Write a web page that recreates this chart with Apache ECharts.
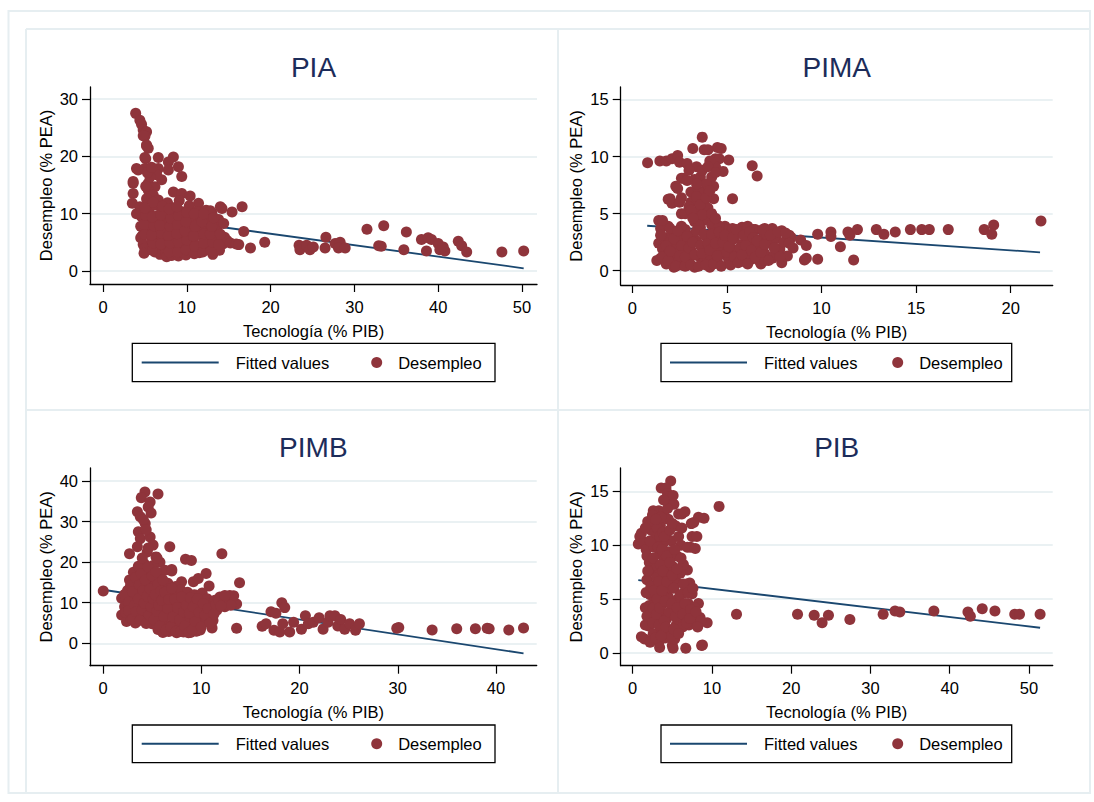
<!DOCTYPE html>
<html>
<head>
<meta charset="utf-8">
<script src="https://cdn.jsdelivr.net/npm/echarts@6/dist/echarts.min.js"></script>
<style>html,body{margin:0;padding:0;background:#fff}#c{width:1094px;height:802px}</style>
</head>
<body>
<div id="c"></div>
<script>
// ---------------- DATA ----------------
const panelTitles = ['PIA', 'PIMA', 'PIMB', 'PIB'];
const xTitle = 'Tecnología (% PIB)';
const yTitle = 'Desempleo (% PEA)';
const legendNames = ['Fitted values', 'Desempleo'];

const xTicksPIA = [0, 10, 20, 30, 40, 50];
const yTicksPIA = [0, 10, 20, 30];
const xTicksPIMA = [0, 5, 10, 15, 20];
const yTicksPIMA = [0, 5, 10, 15];
const xTicksPIMB = [0, 10, 20, 30, 40];
const yTicksPIMB = [0, 10, 20, 30, 40];
const xTicksPIB = [0, 10, 20, 30, 40, 50];
const yTicksPIB = [0, 5, 10, 15];

// fitted values (line endpoints)
const fitPIA = [[3.6, 9.77], [50.2, 0.47]];
const fitPIMA = [[0.79, 3.94], [21.55, 1.61]];
const fitPIMB = [[0.0, 13.2], [42.8, -2.47]];
const fitPIB = [[0.71, 6.76], [51.4, 2.34]];

// Desempleo vs Tecnología, PIA
const ptsPIA = [
  [3.9, 27.5], [4.4, 26.3], [4.6, 25.6], [4.8, 24.6], [5.2, 24.3], [5.0, 23.5], [4.8, 23.6], [5.2, 22.0], [5.4, 21.4],
  [5.1, 19.6], [6.6, 19.8], [8.4, 19.9], [7.8, 19.0], [9.0, 18.2], [7.8, 17.6], [9.4, 16.5], [4.0, 17.9], [5.0, 17.9],
  [6.6, 17.9], [3.6, 15.3], [5.4, 15.3], [3.6, 13.5], [8.4, 13.8], [9.4, 13.5], [10.4, 13.1], [3.5, 11.8], [11.4, 11.8],
  [4.2, 17.6], [3.6, 15.6], [5.0, 19.8], [5.2, 21.8], [6.2, 14.7], [5.4, 14.1], [7.0, 15.9], [6.4, 16.8], [5.6, 16.4],
  [5.3, 17.2], [5.8, 18.1], [6.0, 13.2], [6.6, 12.4], [5.2, 12.6], [5.1, 14.8],
  [4.4, 11.2], [4.6, 9.5], [4.5, 7.8], [4.7, 6.2], [4.5, 5.8], [4.8, 4.6], [5.0, 3.9], [4.0, 10.0],
  [5.5, 10.5], [5.7, 8.8], [5.6, 7.1], [5.8, 5.4], [5.9, 4.2], [6.2, 3.3], [6.3, 11.5], [6.4, 9.6], [6.5, 8.0],
  [6.3, 6.6], [6.7, 5.1], [6.9, 3.6], [6.8, 2.9], [7.0, 10.8], [7.1, 9.1], [7.2, 7.4], [7.0, 6.0], [7.3, 4.4],
  [7.5, 3.1], [7.6, 2.5], [7.7, 11.9], [7.8, 10.2], [7.9, 8.5], [7.7, 6.9], [8.0, 5.6], [8.1, 4.0], [8.2, 2.7],
  [8.4, 3.4], [8.5, 9.7], [8.6, 11.0], [8.3, 7.6], [8.6, 6.2], [8.8, 4.8], [9.0, 2.6], [9.2, 3.9], [9.1, 12.3],
  [9.3, 10.4], [9.4, 8.9], [9.2, 7.1], [9.5, 5.5], [9.6, 3.2], [9.9, 2.8], [10.0, 4.6], [10.1, 6.5], [10.2, 8.0],
  [10.0, 9.6], [10.3, 11.4], [10.6, 3.6], [10.8, 5.2], [10.9, 7.0], [11.0, 9.0], [11.2, 10.4], [11.5, 3.2],
  [11.7, 4.4], [11.8, 6.2], [11.9, 7.7], [12.1, 9.3], [12.3, 10.6], [12.4, 3.8], [12.6, 5.0], [12.7, 6.8],
  [12.9, 8.4], [13.0, 10.1], [13.1, 2.9], [13.3, 4.2], [13.5, 5.6], [13.6, 7.3], [13.8, 9.0], [13.9, 3.6],
  [14.0, 11.2], [14.3, 4.7], [14.5, 5.9], [14.4, 8.3], [14.8, 5.3], [15.2, 4.9], [15.4, 10.3], [15.9, 4.7],
  [14.2, 10.9], [12.8, 10.5], [16.6, 11.2], [16.8, 6.9], [17.6, 4.0], [19.3, 5.0], [16.2, 4.6],
  [23.4, 4.5], [23.5, 3.7], [24.3, 4.5], [24.7, 3.7], [25.1, 4.2], [26.6, 5.9], [26.5, 4.0], [27.7, 4.8],
  [28.3, 5.0], [28.1, 4.0], [28.9, 4.0], [31.5, 7.3], [33.5, 7.9], [32.9, 4.4], [33.2, 4.3], [35.9, 3.7],
  [36.2, 6.8], [38.0, 5.5], [38.8, 5.8], [39.2, 5.5], [38.6, 3.5], [40.0, 4.8], [40.2, 3.7], [40.8, 3.5],
  [40.6, 4.2], [42.4, 5.2], [42.8, 4.4], [43.4, 3.3], [47.6, 3.3], [50.2, 3.5]
];
const corePIA = [
  [4.9, 3.1], [5.0, 6.4], [4.9, 8.1], [5.1, 9.7], [5.0, 11.0], [5.9, 3.6], [6.0, 4.9], [5.8, 6.3], [6.1, 7.9],
  [5.9, 9.4], [6.0, 12.0], [6.9, 4.7], [7.0, 6.6], [6.8, 8.0], [6.9, 9.8], [7.1, 11.3], [7.9, 3.3], [8.0, 4.9],
  [7.8, 6.2], [8.0, 7.8], [8.1, 9.2], [7.9, 10.8], [8.9, 3.3], [9.0, 5.0], [8.8, 6.5], [8.9, 8.1], [9.0, 9.7],
  [8.8, 11.2], [9.9, 3.7], [10.0, 5.4], [9.8, 7.0], [9.9, 8.6], [10.0, 10.2], [10.9, 3.0], [11.0, 4.3],
  [10.8, 6.1], [11.0, 7.8], [10.9, 10.0], [11.9, 3.3], [12.0, 4.9], [12.1, 6.5], [11.8, 8.6], [12.0, 10.0],
  [12.9, 3.5], [13.1, 5.0], [12.8, 6.4], [13.0, 7.8], [13.2, 9.3], [14.0, 6.4], [13.8, 4.6]
];

// PIMA
const ptsPIMA = [
  [0.81, 9.46], [1.46, 9.6], [1.8, 9.6], [2.1, 9.8], [2.4, 10.1], [2.5, 9.5], [2.9, 9.4], [3.4, 9.1], [3.2, 10.7],
  [3.7, 11.7], [3.8, 10.6], [4.5, 10.8], [4.4, 9.8], [5.1, 9.7], [4.8, 8.7], [6.34, 9.2], [6.6, 8.3], [2.6, 8.1],
  [2.3, 7.4], [1.9, 6.25], [2.1, 5.9], [2.6, 5.0], [2.6, 6.4], [5.3, 6.3], [3.8, 4.44], [1.4, 4.4], [1.5, 3.7],
  [1.9, 3.9], [4.5, 4.0], [4.0, 10.6], [4.7, 10.7], [4.6, 9.8], [4.4, 9.1], [4.2, 8.2], [3.6, 8.2], [4.3, 7.4],
  [3.8, 6.9], [3.1, 6.9], [2.4, 7.2], [2.7, 8.1], [2.0, 6.3], [2.5, 6.0], [3.1, 6.0], [3.8, 6.0], [4.3, 6.3],
  [3.5, 5.3], [4.0, 5.5], [2.8, 5.0], [3.3, 4.3], [4.0, 4.5], [1.6, 4.4], [4.9, 3.9], [3.9, 7.6], [3.5, 7.0],
  [4.1, 9.6], [3.3, 8.0], [3.0, 5.6], [3.7, 4.9],
  [1.4, 2.4], [1.5, 1.1], [1.6, 1.9], [1.7, 2.9], [1.8, 0.6], [1.9, 1.5], [2.0, 2.5], [2.1, 3.3], [2.2, 0.3],
  [2.3, 1.2], [2.4, 2.0], [2.5, 2.9], [2.6, 0.5], [2.7, 1.6], [2.8, 3.6], [2.9, 2.4], [3.0, 0.9], [3.1, 1.8],
  [3.2, 3.1], [3.3, 0.3], [3.4, 2.6], [3.5, 1.3], [3.6, 3.8], [3.7, 0.6], [3.8, 2.0], [3.9, 3.0], [4.0, 1.1],
  [4.1, 0.3], [4.2, 2.5], [4.3, 3.5], [4.4, 1.6], [4.5, 0.8], [4.6, 2.9], [4.7, 2.1], [4.8, 3.7], [4.9, 1.4],
  [5.0, 2.6], [5.1, 0.9], [5.2, 3.3], [5.3, 1.9], [5.4, 2.8], [5.5, 1.2], [5.6, 3.5], [5.8, 2.3], [5.9, 0.8],
  [6.0, 3.0], [6.1, 1.7], [6.2, 2.6], [6.3, 1.0], [6.5, 3.6], [6.6, 2.0], [6.7, 0.9], [6.9, 2.9], [7.0, 1.5],
  [7.1, 3.2], [7.3, 2.4], [7.4, 1.1], [7.6, 2.8], [7.8, 1.9], [8.0, 2.5], [8.2, 1.3], [8.4, 2.9], [1.3, 0.9],
  [2.0, 3.7], [2.6, 3.9], [3.5, 4.0], [4.2, 4.0], [4.6, 3.9], [5.3, 3.7], [5.8, 3.8], [6.1, 3.9], [7.0, 3.7],
  [6.8, 0.6], [7.5, 1.3], [7.9, 0.7], [7.0, 0.9],
  [6.4, 3.62], [7.4, 3.7], [7.9, 3.5], [8.3, 3.1], [8.3, 2.4], [8.9, 2.7], [9.2, 2.2], [9.1, 0.94], [9.2, 1.1],
  [9.8, 1.0], [9.8, 3.2], [10.5, 3.4], [10.5, 3.0], [11.0, 2.1], [11.4, 3.4], [11.5, 3.1], [11.9, 3.6],
  [11.7, 0.94], [12.9, 3.6], [13.3, 3.2], [13.9, 3.4], [14.7, 3.6], [15.3, 3.6], [15.7, 3.6], [16.7, 3.6],
  [18.6, 3.6], [19.1, 4.0], [19.0, 3.2], [21.6, 4.35]
];
const corePIMA = [
  [1.5, 3.1], [1.6, 1.2], [1.8, 2.2], [1.9, 0.9], [2.0, 1.7], [2.2, 2.8], [2.3, 0.4], [2.4, 3.5], [2.5, 1.3],
  [2.6, 2.2], [2.8, 0.4], [2.8, 1.2], [2.9, 3.0], [3.0, 2.0], [3.1, 0.5], [3.2, 2.5], [3.3, 1.4], [3.4, 3.5],
  [3.5, 0.4], [3.6, 2.2], [3.7, 1.5], [3.8, 3.2], [3.9, 0.5], [4.0, 2.4], [4.1, 1.8], [4.2, 3.2], [4.3, 0.6],
  [4.4, 2.4], [4.5, 1.3], [4.6, 3.4], [4.7, 0.4], [4.8, 2.5], [4.9, 3.1], [5.0, 1.6], [5.1, 2.1], [5.2, 0.5],
  [5.3, 2.9], [5.4, 1.2], [5.5, 3.6], [5.6, 0.7], [5.7, 2.0], [5.8, 1.4], [5.9, 3.1], [6.0, 2.2], [6.1, 0.6],
  [6.2, 3.4], [6.3, 1.8], [6.4, 2.9], [6.5, 1.2], [6.6, 2.6], [6.8, 1.6], [6.9, 3.6], [7.0, 2.3], [7.2, 0.9],
  [7.3, 3.1], [7.5, 2.0], [7.7, 3.4], [7.8, 1.2], [8.1, 3.3], [8.5, 2.0], [3.1, 5.3], [3.4, 6.5], [3.6, 5.8],
  [3.9, 6.4], [4.1, 7.0], [3.7, 8.8], [4.0, 9.1], [3.4, 7.6], [4.4, 8.6], [4.2, 5.0], [3.2, 4.6], [4.4, 4.6],
  [2.9, 7.9], [3.0, 8.8]
];

// PIMB
const ptsPIMB = [
  [0.03, 12.9], [4.27, 37.3], [5.6, 36.8], [3.9, 35.9], [4.8, 34.8], [4.6, 33.6], [3.5, 32.4], [4.9, 32.1],
  [3.8, 31.2], [4.3, 29.5], [3.6, 27.5], [3.8, 25.8], [4.8, 26.2], [5.1, 24.2], [3.5, 23.8], [6.8, 23.8],
  [2.7, 22.1], [12.1, 22.1], [5.4, 21.3], [8.4, 20.7], [9.0, 20.4], [7.0, 18.2], [10.5, 17.2], [8.0, 15.2],
  [9.2, 15.2], [9.7, 16.0], [10.8, 14.1], [13.9, 14.9], [12.9, 11.8], [11.9, 11.4], [13.6, 9.7], [12.4, 9.0],
  [13.6, 3.7], [11.1, 3.8], [4.4, 28.0], [4.1, 30.5], [4.5, 22.5], [5.8, 20.0], [4.2, 19.6], [5.0, 18.4],
  [1.9, 7.0], [1.9, 11.1], [2.4, 5.4], [2.2, 9.0], [2.5, 13.0], [2.7, 15.6], [2.8, 6.3], [2.9, 11.8],
  [3.0, 8.2], [3.1, 17.5], [3.2, 14.0], [3.3, 5.0], [3.4, 10.3], [3.5, 12.6], [3.6, 19.0], [3.7, 7.3],
  [3.8, 15.0], [3.9, 9.2], [4.0, 21.0], [4.1, 11.5], [4.2, 13.8], [4.3, 6.0], [4.4, 17.0], [4.5, 8.5],
  [4.6, 23.5], [4.7, 10.4], [4.8, 15.8], [4.9, 12.4], [5.0, 4.8], [5.1, 19.2], [5.2, 7.5], [5.3, 14.3],
  [5.4, 9.8], [5.5, 21.0], [5.6, 3.4], [5.7, 11.8], [5.8, 16.9], [5.9, 6.2], [6.0, 13.4], [6.1, 2.7],
  [6.2, 9.0], [6.3, 18.0], [6.4, 4.6], [6.5, 11.0], [6.6, 14.8], [6.7, 2.9], [6.8, 7.4], [6.9, 12.8],
  [7.0, 17.8], [7.1, 3.6], [7.2, 9.6], [7.3, 5.6], [7.4, 14.0], [7.5, 2.6], [7.6, 11.5], [7.7, 7.9],
  [7.8, 3.8], [7.9, 13.2], [8.0, 9.0], [8.1, 5.0], [8.2, 2.8], [8.3, 11.2], [8.4, 7.0], [8.5, 3.6],
  [8.6, 12.6], [8.7, 9.6], [8.8, 5.6], [8.9, 2.7], [9.0, 10.5], [9.1, 7.2], [9.2, 4.2], [9.3, 12.0],
  [9.4, 8.4], [9.5, 3.0], [9.6, 6.0], [9.7, 10.2], [9.9, 3.3], [10.0, 8.0], [10.1, 12.4], [10.2, 5.4],
  [10.4, 9.6], [10.5, 6.2], [10.6, 11.0], [10.8, 7.6], [11.0, 9.8], [11.2, 5.6], [11.4, 10.6], [11.6, 8.2],
  [11.9, 9.6], [12.2, 10.8], [12.6, 11.5], [12.8, 10.0], [13.3, 11.7], [13.0, 9.4],
  [17.1, 7.8], [17.6, 7.4], [18.2, 10.0], [18.5, 8.8], [16.2, 4.2], [16.6, 4.8], [17.4, 3.2], [18.0, 2.8],
  [19.0, 2.8], [18.3, 4.8], [19.4, 5.2], [20.2, 3.5], [20.6, 6.8], [20.9, 4.8], [21.4, 5.2], [22.0, 6.3],
  [22.4, 3.5], [22.9, 5.2], [23.1, 6.8], [23.6, 6.8], [23.9, 4.3], [24.2, 5.9], [24.6, 3.5], [25.1, 4.8],
  [25.7, 3.2], [26.1, 4.8], [29.9, 3.7], [30.1, 3.9], [33.5, 3.3], [36.0, 3.6], [37.9, 3.6], [39.3, 3.6],
  [39.1, 3.7], [41.3, 3.3], [42.8, 3.8]
];
const corePIMB = [
  [2.2, 12.0], [2.3, 7.6], [2.6, 10.1], [2.6, 8.0], [2.8, 14.2], [3.0, 12.8], [3.0, 6.0], [3.2, 9.4],
  [3.3, 16.2], [3.4, 7.8], [3.6, 11.0], [3.7, 14.4], [3.8, 5.7], [3.9, 17.2], [4.0, 8.2], [4.1, 13.0],
  [4.2, 9.9], [4.3, 15.6], [4.4, 4.9], [4.5, 11.6], [4.6, 18.8], [4.7, 7.0], [4.8, 13.4], [4.9, 9.0],
  [5.0, 16.6], [5.1, 11.0], [5.2, 5.8], [5.3, 12.0], [5.4, 17.6], [5.5, 7.9], [5.6, 14.6], [5.7, 9.4],
  [5.8, 4.3], [5.9, 12.9], [6.0, 10.6], [6.1, 15.6], [6.2, 6.6], [6.3, 12.6], [6.4, 3.3], [6.6, 8.6],
  [6.7, 10.8], [6.9, 4.0], [7.0, 13.6], [7.1, 6.5], [7.3, 10.8], [7.4, 3.0], [7.6, 8.8], [7.8, 5.8],
  [7.9, 2.9], [8.0, 11.4], [8.2, 7.8], [8.3, 4.2], [8.5, 9.4], [8.7, 2.6], [8.8, 7.4], [8.9, 11.2],
  [9.1, 3.4], [9.2, 9.0], [9.4, 5.4], [9.6, 11.0], [9.8, 7.6], [10.0, 4.0], [10.2, 9.8], [10.4, 7.0],
  [10.7, 8.6], [10.9, 5.0], [11.3, 7.2], [11.5, 9.6], [11.8, 10.6], [12.4, 11.8], [12.0, 9.2]
];

// PIB
const ptsPIB = [
  [4.8, 15.95], [3.6, 15.3], [4.2, 15.3], [4.4, 14.8], [4.4, 14.5], [4.8, 13.8], [10.9, 13.6], [3.3, 13.2],
  [6.2, 12.9], [8.3, 12.6], [7.7, 12.1], [1.9, 12.2], [7.5, 10.8], [7.3, 9.8], [0.71, 10.1], [0.9, 10.8],
  [1.4, 10.3], [6.9, 7.7], [7.2, 6.5], [7.5, 5.5], [8.3, 4.6], [9.4, 2.8], [8.8, 0.74], [6.7, 0.43],
  [5.1, 0.43], [3.4, 0.5], [1.5, 1.3],
  [1.1, 11.1], [1.1, 1.5], [1.6, 4.2], [1.7, 9.6], [1.8, 6.8], [2.0, 2.5], [2.1, 8.4], [2.2, 5.4],
  [2.3, 11.4], [2.4, 3.6], [2.4, 12.2], [2.5, 7.6], [2.6, 13.2], [2.6, 1.8], [2.7, 9.8], [2.8, 4.8],
  [2.9, 6.2], [3.0, 10.6], [3.0, 2.9], [3.1, 8.0], [3.2, 12.6], [3.3, 1.0], [3.3, 5.6], [3.4, 9.2],
  [3.5, 3.8], [3.5, 11.8], [3.6, 7.0], [3.7, 2.2], [3.8, 10.1], [3.8, 4.6], [3.9, 13.0], [4.0, 6.4],
  [4.0, 8.6], [4.1, 1.4], [4.2, 11.0], [4.3, 3.2], [4.4, 7.8], [4.5, 5.2], [4.5, 12.4], [4.6, 9.4],
  [4.6, 2.0], [4.8, 6.0], [4.9, 10.4], [5.0, 3.6], [5.0, 0.7], [5.1, 8.0], [5.2, 13.8], [5.3, 4.4],
  [5.3, 1.3], [5.4, 11.8], [5.5, 6.6], [5.5, 2.6], [5.6, 9.0], [5.7, 5.0], [5.8, 12.9], [5.9, 3.0],
  [6.0, 7.4], [6.1, 10.0], [6.2, 4.0], [6.3, 2.4], [6.4, 8.2], [6.5, 5.6], [6.6, 13.1], [6.7, 3.4],
  [6.8, 6.4], [6.9, 9.8], [7.0, 4.6], [7.1, 2.6], [7.4, 12.0], [7.6, 3.0], [7.8, 4.2], [7.9, 9.7],
  [8.1, 10.8], [8.5, 3.3], [9.0, 12.5], [8.7, 0.7], [3.9, 5.2], [3.2, 7.2], [2.8, 3.0], [4.7, 7.0],
  [13.1, 3.6], [20.8, 3.6], [22.9, 3.5], [23.9, 2.8], [24.7, 3.5], [27.4, 3.1], [31.6, 3.6], [33.1, 3.9],
  [33.7, 3.8], [38.0, 3.9], [42.3, 3.8], [42.6, 3.4], [44.1, 4.1], [45.7, 3.9], [48.2, 3.6], [48.8, 3.6],
  [51.4, 3.6]
];
const corePIB = [
  [1.6, 2.6], [1.8, 3.4], [1.7, 5.6], [1.9, 7.6], [1.8, 9.0], [1.6, 11.6], [2.2, 1.0], [2.1, 4.4], [2.3, 6.2],
  [2.2, 10.4], [2.5, 12.8], [2.5, 2.8], [2.6, 4.2], [2.7, 5.8], [2.6, 8.8], [2.8, 11.2], [2.9, 1.4], [3.0, 3.6],
  [3.1, 5.0], [3.0, 7.0], [3.2, 9.8], [3.1, 11.6], [3.3, 2.6], [3.4, 4.2], [3.3, 6.6], [3.5, 8.2], [3.4, 10.8],
  [3.6, 12.6], [3.6, 1.6], [3.7, 5.8], [3.8, 7.6], [3.7, 9.6], [3.8, 11.2], [4.0, 3.0], [4.1, 4.8], [4.0, 10.8],
  [4.2, 2.4], [4.3, 6.6], [4.3, 9.0], [4.4, 13.4], [4.6, 3.8], [4.7, 8.4], [4.7, 11.4], [4.9, 1.6], [4.9, 4.6],
  [5.0, 7.2], [5.0, 12.0], [5.2, 2.2], [5.2, 6.0], [5.3, 9.6], [5.4, 3.4], [5.6, 7.8], [5.6, 4.2], [5.8, 10.8],
  [5.8, 1.8], [6.0, 5.4], [6.1, 8.8], [6.3, 3.6], [6.4, 6.4], [6.6, 4.6], [6.8, 2.8], [6.2, 11.6], [7.0, 5.6],
  [7.3, 4.0], [7.6, 6.0], [7.2, 3.2], [8.0, 3.8], [8.6, 3.0], [8.2, 2.4], [5.1, 14.6], [3.9, 14.2], [2.9, 12.4]
];

// ---------------- LAYOUT ----------------
const F = "'Liberation Sans', Arial, Helvetica, sans-serif";
const panels = [
  { pts: ptsPIA.concat(corePIA), fit: fitPIA, xt: xTicksPIA, yt: yTicksPIA, grid: [90, 87, 447, 197], xr: [-1.55, 51.79], yr: [-2.27, 32.1], leg: [132.3, 343.3, 495, 381.7], lx: 141.7, cx: 376.7 },
  { pts: ptsPIMA.concat(corePIMA), fit: fitPIMA, xt: xTicksPIMA, yt: yTicksPIMA, grid: [620.7, 87, 432, 198], xr: [-0.61, 22.22], yr: [-1.25, 16.09], leg: [661, 343.3, 1011.7, 381.7], lx: 670, cx: 897.7 },
  { pts: ptsPIMB.concat(corePIMB), fit: fitPIMB, xt: xTicksPIMB, yt: yTicksPIMB, grid: [90, 468, 446.7, 197.7], xr: [-1.32, 44.14], yr: [-5.51, 43.2], leg: [132.3, 725, 495, 762.7], lx: 141.7, cx: 376.7 },
  { pts: ptsPIB.concat(corePIB), fit: fitPIB, xt: xTicksPIB, yt: yTicksPIB, grid: [620.7, 468, 432, 197.7], xr: [-1.51, 52.99], yr: [-1.18, 17.16], leg: [661, 725, 1011.7, 762.7], lx: 670, cx: 897.7 }
];

const FS = 16.5;
const option = {
  animation: false,
  backgroundColor: '#ffffff',
  textStyle: { fontFamily: F },
  grid: [], xAxis: [], yAxis: [], series: [], legend: [], graphic: []
};

const frameColor = '#e6eef1';
option.graphic.push(
  { type: 'rect', shape: { x: 8.5, y: 11, width: 1081.5, height: 782 }, style: { fill: 'none', stroke: frameColor, lineWidth: 2 }, silent: true },
  { type: 'line', shape: { x1: 26, y1: 29, x2: 1090, y2: 29 }, style: { stroke: frameColor, lineWidth: 2 }, silent: true },
  { type: 'line', shape: { x1: 26, y1: 29, x2: 26, y2: 793 }, style: { stroke: frameColor, lineWidth: 2 }, silent: true },
  { type: 'line', shape: { x1: 558, y1: 29, x2: 558, y2: 793 }, style: { stroke: frameColor, lineWidth: 2 }, silent: true },
  { type: 'line', shape: { x1: 26, y1: 410, x2: 1090, y2: 410 }, style: { stroke: frameColor, lineWidth: 2 }, silent: true }
);

panels.forEach((p, i) => {
  const [gl, gt, gw, gh] = p.grid;
  option.grid.push({ left: gl, top: gt, width: gw, height: gh, containLabel: false, outerBoundsMode: 'none' });
  option.xAxis.push({
    type: 'value', gridIndex: i, min: p.xr[0], max: p.xr[1],
    name: xTitle, nameLocation: 'middle', nameGap: 38,
    nameTextStyle: { fontSize: FS, color: '#000', fontFamily: F },
    axisLine: { onZero: false, lineStyle: { color: '#000', width: 1.3 } },
    axisTick: { show: true, length: 8, customValues: p.xt, lineStyle: { color: '#000', width: 1.2 } },
    axisLabel: { customValues: p.xt, margin: 14, fontSize: FS, color: '#000', fontFamily: F },
    splitLine: { show: false }
  });
  option.yAxis.push({
    type: 'value', gridIndex: i, min: p.yr[0], max: p.yr[1],
    name: yTitle, nameLocation: 'middle', nameGap: 36, nameRotate: 90,
    nameTextStyle: { fontSize: FS, color: '#000', fontFamily: F },
    axisLine: { show: true, onZero: false, lineStyle: { color: '#000', width: 1.3 } },
    axisTick: { show: true, length: 8, customValues: p.yt, lineStyle: { color: '#000', width: 1.2 } },
    axisLabel: { customValues: p.yt, margin: 12, fontSize: FS, color: '#000', fontFamily: F },
    splitLine: { show: true, lineStyle: { color: '#eaf1f3', width: 2 } }
  });
  option.series.push({
    name: legendNames[0], type: 'line', xAxisIndex: i, yAxisIndex: i, data: p.fit,
    showSymbol: false, symbol: 'none', silent: true, z: 2,
    lineStyle: { color: '#1a476f', width: 1.8 }, itemStyle: { color: '#1a476f' }
  });
  option.series.push({
    name: legendNames[1], type: 'scatter', xAxisIndex: i, yAxisIndex: i, data: p.pts,
    symbol: 'circle', symbolSize: 11, silent: true, z: 3,
    itemStyle: { color: '#8f343b', opacity: 1 }
  });
  // title
  option.graphic.push({
    type: 'text', x: gl + gw / 2, y: (i < 2 ? 67 : 447.5), silent: true,
    style: { text: panelTitles[i], fill: '#1c2c5a', font: '28px ' + F, textAlign: 'center', textVerticalAlign: 'middle' }
  });
  // legend box
  const [bx0, by0, bx1, by1] = p.leg;
  const cy = (by0 + by1) / 2;
  option.graphic.push({
    type: 'rect', shape: { x: bx0, y: by0, width: bx1 - bx0, height: by1 - by0 },
    style: { fill: 'none', stroke: '#000', lineWidth: 1.3 }, silent: true
  });
  option.legend.push({
    data: [{ name: legendNames[0], icon: 'rect' }], left: p.lx, top: cy - 10, padding: 0,
    itemWidth: 77, itemHeight: 2, selectedMode: false,
    textStyle: { fontSize: FS, color: '#000', fontFamily: F, padding: [0, 0, 0, 12], lineHeight: 20 }
  });
  option.legend.push({
    data: [{ name: legendNames[1], icon: 'circle' }], left: p.cx - 5.5, top: cy - 10, padding: 0,
    itemWidth: 11, itemHeight: 11, selectedMode: false,
    textStyle: { fontSize: FS, color: '#000', fontFamily: F, padding: [0, 0, 0, 11], lineHeight: 20 }
  });
});

const chart = echarts.init(document.getElementById('c'), null, { renderer: 'svg', width: 1094, height: 802 });
chart.setOption(option);
</script>
</body>
</html>
